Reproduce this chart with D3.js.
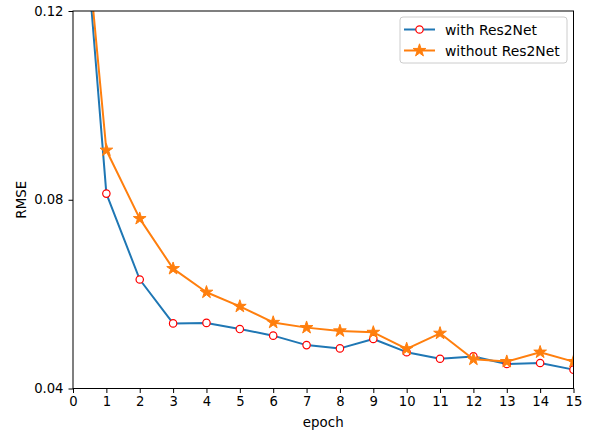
<!DOCTYPE html>
<html>
<head>
<meta charset="utf-8">
<script src="https://cdn.jsdelivr.net/npm/d3@7/dist/d3.min.js"></script>
<style>
body { margin: 0; background: #fff; }
svg text { font-family: "DejaVu Sans", sans-serif; fill: #000; }
</style>
</head>
<body>
<svg id="chart" width="591" height="434"></svg>
<script>
const epochs = [0,1,2,3,4,5,6,7,8,9,10,11,12,13,14,15];
const withRes2Net = [0.169,0.0813,0.0631,0.0538,0.0539,0.0526,0.0512,0.0492,0.0485,0.0505,0.0477,0.0463,0.0468,0.0452,0.0454,0.0440];
const withoutRes2Net = [0.166,0.0905,0.0760,0.0654,0.0604,0.0574,0.0540,0.0529,0.0522,0.0519,0.0484,0.0517,0.0462,0.0457,0.0477,0.0457];
const xTicks = [0,1,2,3,4,5,6,7,8,9,10,11,12,13,14,15];
const yTicks = [0.04,0.08,0.12];
const seriesNames = ["with Res2Net","without Res2Net"];

const svg = d3.select("#chart");
const L = 73, R = 573.5, T = 11, B = 388.5;
const x = d3.scaleLinear().domain([0,15]).range([L,R]);
const y = d3.scaleLinear().domain([0.04,0.12]).range([B,T]);

const blue = "#1f77b4", orange = "#ff7f0e";

svg.append("defs").append("clipPath").attr("id","clip")
  .append("rect").attr("x",L).attr("y",T).attr("width",R-L).attr("height",B-T);

const plot = svg.append("g").attr("clip-path","url(#clip)");
const line = d3.line().x((d,i)=>x(epochs[i])).y(d=>y(d));

plot.append("path").datum(withRes2Net).attr("d",line)
  .attr("fill","none").attr("stroke",blue).attr("stroke-width",2).attr("stroke-linejoin","round");
plot.selectAll("circle.m").data(withRes2Net).enter().append("circle")
  .attr("cx",(d,i)=>x(epochs[i])).attr("cy",d=>y(d)).attr("r",3.7)
  .attr("fill","#fff").attr("stroke","red").attr("stroke-width",1.2);

plot.append("path").datum(withoutRes2Net).attr("d",line)
  .attr("fill","none").attr("stroke",orange).attr("stroke-width",2).attr("stroke-linejoin","round");
const star = d3.symbol().type(d3.symbolStar).size(50);
plot.selectAll("path.s").data(withoutRes2Net).enter().append("path")
  .attr("transform",(d,i)=>`translate(${x(epochs[i])},${y(d)})`)
  .attr("d",star).attr("fill",orange).attr("stroke",orange).attr("stroke-width",1).attr("stroke-linejoin","miter");

// axes
const xAxis = d3.axisBottom(x).tickValues(xTicks).tickSize(4.5).tickPadding(4).tickFormat(d3.format("d"));
const gx = svg.append("g").attr("transform",`translate(0,${B})`).call(xAxis);
const yAxis = d3.axisLeft(y).tickValues(yTicks).tickSize(4.5).tickPadding(5).tickFormat(d3.format(".2f"));
const gy = svg.append("g").attr("transform",`translate(${L},0)`).call(yAxis);
[gx,gy].forEach(g=>{
  g.select(".domain").remove();
  g.selectAll(".tick line").attr("stroke","#000").attr("stroke-width",1);
  g.selectAll(".tick text").attr("font-size",13.2).attr("font-family","DejaVu Sans").attr("fill","#000");
});
// frame
svg.append("rect").attr("x",L).attr("y",T).attr("width",R-L).attr("height",B-T)
  .attr("fill","none").attr("stroke","#000").attr("stroke-width",1);

svg.append("text").attr("x",(L+R)/2).attr("y",427).attr("text-anchor","middle")
  .attr("font-size",13.4).text("epoch");
svg.append("text").attr("transform",`translate(26,${(T+B)/2}) rotate(-90)`).attr("text-anchor","middle")
  .attr("font-size",13.4).text("RMSE");

// legend
const lg = svg.append("g");
lg.append("rect").attr("x",400).attr("y",17).attr("width",167).attr("height",46).attr("rx",3)
  .attr("fill","#fff").attr("fill-opacity",0.8).attr("stroke","#ccc").attr("stroke-width",1);
const rows = [29.5, 50.5];
seriesNames.forEach((name,i)=>{
  const cy = rows[i];
  const col = i===0 ? blue : orange;
  lg.append("line").attr("x1",404).attr("x2",435).attr("y1",cy).attr("y2",cy)
    .attr("stroke",col).attr("stroke-width",2);
  if (i===0) {
    lg.append("circle").attr("cx",419.5).attr("cy",cy).attr("r",3.7)
      .attr("fill","#fff").attr("stroke","red").attr("stroke-width",1.2);
  } else {
    lg.append("path").attr("transform",`translate(419.5,${cy})`).attr("d",star)
      .attr("fill",orange).attr("stroke",orange).attr("stroke-width",1);
  }
  lg.append("text").attr("x",445).attr("y",cy+5).attr("font-size",13.9).text(name);
});
</script>
</body>
</html>
